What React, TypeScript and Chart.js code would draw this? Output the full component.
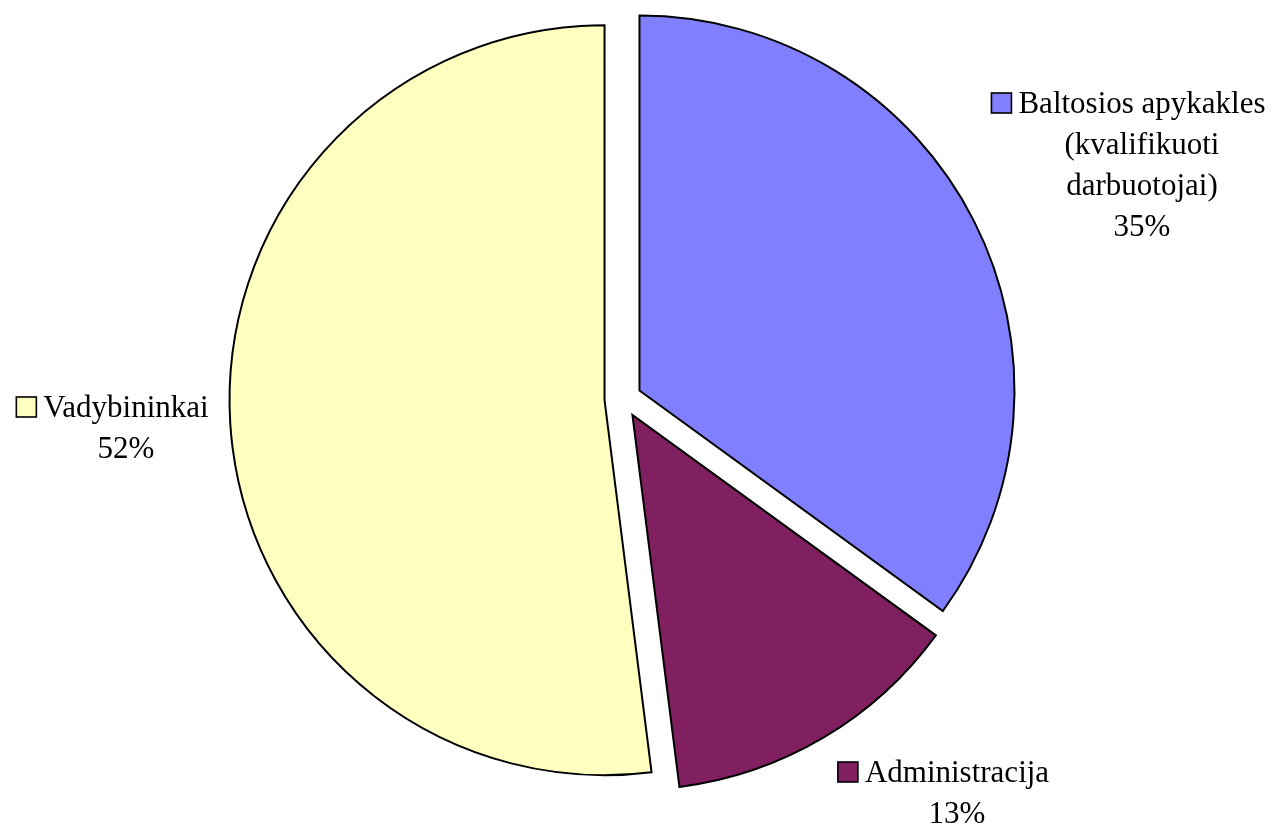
import React, { useEffect, useRef } from "react";
import { Chart, registerables } from "chart.js";

Chart.register(...registerables);

// ---- data ----
const CATEGORIES: string[] = [
  "Baltosios apykakles\n(kvalifikuoti\ndarbuotojai)",
  "Administracija",
  "Vadybininkai",
];
const VALUES: number[] = [35, 13, 52];
const COLORS: string[] = ["#8080FF", "#802060", "#FFFFC0"];

// ---- layout / style (kept apart from data) ----
const RADIUS = 375;
const EXPLODE = 18.5;
const LABEL_ANCHORS = [
  { x: 1142, y: 113 },
  { x: 957, y: 782 },
  { x: 126, y: 417 },
];
const FONT = '31px "Liberation Serif", "Times New Roman", serif';
const LINE_H = 41;
const BOX = 20;
const BOX_GAP = 7;

const explodePlugin = {
  id: "explodeSlices",
  beforeDatasetsDraw(chart: any) {
    const ctx: CanvasRenderingContext2D = chart.ctx;
    const meta = chart.getDatasetMeta(0);
    meta.data.forEach((arc: any) => {
      const mid = (arc.startAngle + arc.endAngle) / 2;
      ctx.save();
      ctx.translate(Math.cos(mid) * EXPLODE, Math.sin(mid) * EXPLODE);
      arc.draw(ctx);
      ctx.restore();
    });
    return false;
  },
};

const labelPlugin = {
  id: "sliceLabels",
  afterDraw(chart: any) {
    const ctx: CanvasRenderingContext2D = chart.ctx;
    const labels: string[] = chart.data.labels;
    const values: number[] = chart.data.datasets[0].data;
    const colors: string[] = chart.data.datasets[0].backgroundColor;
    const total = values.reduce((a, b) => a + b, 0);
    ctx.save();
    ctx.font = FONT;
    ctx.textAlign = "center";
    ctx.textBaseline = "alphabetic";
    labels.forEach((lab, i) => {
      const lines = lab.split("\n");
      lines.push(Math.round((values[i] / total) * 100) + "%");
      const a = LABEL_ANCHORS[i];
      lines.forEach((ln, j) => {
        ctx.fillStyle = "#000";
        ctx.fillText(ln, a.x, a.y + j * LINE_H);
      });
      const w0 = ctx.measureText(lines[0]).width;
      const left = a.x - w0 / 2;
      const bx = left - BOX_GAP - BOX;
      const by = a.y - BOX;
      ctx.fillStyle = colors[i];
      ctx.fillRect(bx, by, BOX, BOX);
      ctx.lineWidth = 1.6;
      ctx.strokeStyle = "#000";
      ctx.strokeRect(bx, by, BOX, BOX);
    });
    ctx.restore();
  },
};

export default function App() {
  const ref = useRef<HTMLCanvasElement | null>(null);

  useEffect(() => {
    if (!ref.current) return;
    const chart = new Chart(ref.current, {
      type: "pie",
      data: {
        labels: CATEGORIES,
        datasets: [
          {
            data: VALUES,
            backgroundColor: COLORS,
            borderColor: "#000",
            borderWidth: 2,
            borderJoinStyle: "miter",
          } as any,
        ],
      },
      options: {
        responsive: false,
        animation: false,
        radius: RADIUS,
        layout: { padding: { left: 0, right: 39, top: 0, bottom: 33 } },
        plugins: {
          legend: { display: false },
          tooltip: { enabled: false },
          title: { display: false },
        },
        events: [],
      } as any,
      plugins: [explodePlugin, labelPlugin],
    });
    return () => chart.destroy();
  }, []);

  return (
    <div
      style={{
        position: "fixed",
        left: 0,
        top: 0,
        width: 1285,
        height: 831,
        background: "#fff",
      }}
    >
      <canvas ref={ref} width={1285} height={831} style={{ display: "block" }} />
    </div>
  );
}
